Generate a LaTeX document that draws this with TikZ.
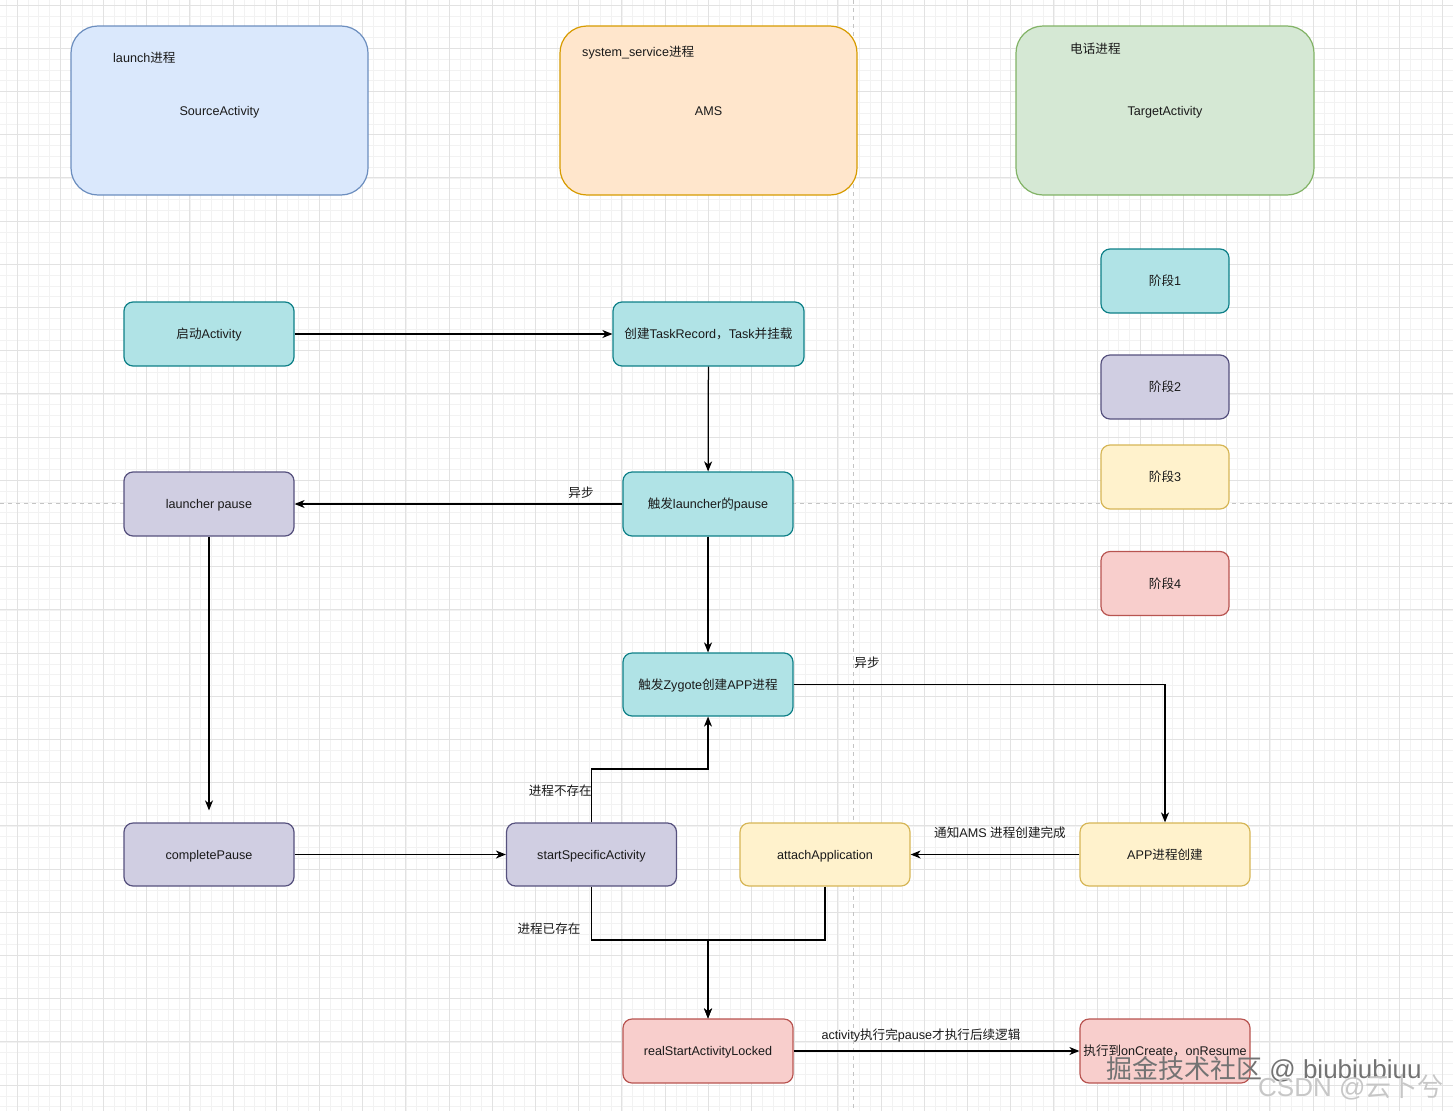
\documentclass[tikz,border=0pt]{standalone}
\usepackage{fontspec}
\setmainfont{Liberation Sans}
\newfontfamily\cjk{Noto Sans CJK SC}
\newcommand\zh[1]{{\cjk #1}}
\usetikzlibrary{arrows.meta}
\definecolor{tealF}{HTML}{B0E3E6}\definecolor{tealD}{HTML}{0E8088}
\definecolor{purpF}{HTML}{D0CEE2}\definecolor{purpD}{HTML}{56517E}
\definecolor{yelF}{HTML}{FFF2CC}\definecolor{yelD}{HTML}{D6B656}
\definecolor{redF}{HTML}{F8CECC}\definecolor{redD}{HTML}{B85450}
\definecolor{bluF}{HTML}{DAE8FC}\definecolor{bluD}{HTML}{6C8EBF}
\definecolor{orgF}{HTML}{FFE6CC}\definecolor{orgD}{HTML}{D79B00}
\definecolor{grnF}{HTML}{D5E8D4}\definecolor{grnD}{HTML}{82B366}
\definecolor{txt}{HTML}{1A1A1A}
\definecolor{gridmin}{HTML}{F2F2F2}
\definecolor{gridmaj}{HTML}{E2E2E2}
\definecolor{pagebrk}{HTML}{C4C4C4}
\tikzset{
  basefont/.style={font=\fontsize{12.6}{15}\selectfont, text=txt, text height=9pt, text depth=0pt},
  box/.style={basefont, rounded corners=9pt, minimum width=170pt, minimum height=64pt, inner sep=0pt, line width=1.2pt},
  bigbox/.style={basefont, rounded corners=27pt, minimum width=297pt, minimum height=169pt, inner sep=0pt, line width=1.2pt},
  tealbox/.style={box, fill=tealF, draw=tealD},
  purpbox/.style={box, fill=purpF, draw=purpD},
  yelbox/.style={box, fill=yelF, draw=yelD},
  redbox/.style={box, fill=redF, draw=redD},
  stagebox/.style={minimum width=128pt},
  lbl/.style={basefont, inner sep=0pt},
  arr/.style={line width=1.25pt, draw=black, -{Stealth[length=10pt,width=8pt,inset=3pt]}},
  wm/.style={inner sep=0pt, font=\fontsize{26}{30}\selectfont},
}
\begin{document}
\begin{tikzpicture}[x=1pt,y=-1pt]
\useasboundingbox (0,0) rectangle (1453,1111);
\fill[white] (0,0) rectangle (1453,1111);
% grid
\foreach \i in {0,...,135} {\draw[gridmin, line width=0.6pt] ({6.2+\i*10.8},0) -- ({6.2+\i*10.8},1111);}
\foreach \i in {0,...,103} {\draw[gridmin, line width=0.6pt] (0,{5+\i*10.8}) -- (1453,{5+\i*10.8});}
\foreach \i in {0,...,33} {\draw[gridmaj, line width=0.8pt] ({17+\i*43.2},0) -- ({17+\i*43.2},1111);}
\foreach \i in {0,...,25} {\draw[gridmaj, line width=0.8pt] (0,{5+\i*43.2}) -- (1453,{5+\i*43.2});}
% page breaks
\draw[pagebrk, line width=1pt, dash pattern=on 4pt off 4pt] (853,0) -- (853,1111);
\draw[pagebrk, line width=1pt, dash pattern=on 4pt off 4pt] (0,503) -- (1453,503);

% big process boxes
\node[bigbox, fill=bluF, draw=bluD] (launch) at (219.5,110.5) {SourceActivity};
\node[lbl, anchor=west] (launchT) at (113,58) {launch\zh{进程}};
\node[bigbox, fill=orgF, draw=orgD] (ams) at (708.5,110.5) {AMS};
\node[lbl, anchor=west] (amsT) at (582,52) {system\_service\zh{进程}};
\node[bigbox, fill=grnF, draw=grnD, minimum width=298pt] (phone) at (1165,110.5) {TargetActivity};
\node[lbl, anchor=west] (phoneT) at (1070,49) {\zh{电话进程}};

% legend
\node[tealbox, stagebox] (s1) at (1165,281) {\zh{阶段}1};
\node[purpbox, stagebox] (s2) at (1165,387) {\zh{阶段}2};
\node[yelbox, stagebox] (s3) at (1165,477) {\zh{阶段}3};
\node[redbox, stagebox] (s4) at (1165,583.5) {\zh{阶段}4};

% flow nodes
\node[tealbox] (sa) at (209,334) {\zh{启动}Activity};
\node[tealbox, minimum width=191pt] (ct) at (708.5,334) {\zh{创建}TaskRecord\zh{，}Task\zh{并挂载}};
\node[tealbox] (tlp) at (708,504) {\zh{触发}launcher\zh{的}pause};
\node[purpbox] (lp) at (209,504) {launcher pause};
\node[tealbox, minimum height=63pt] (zyg) at (708,684.5) {\zh{触发}Zygote\zh{创建}APP\zh{进程}};
\node[purpbox, minimum height=63pt] (cp) at (209,854.5) {completePause};
\node[purpbox, minimum height=63pt] (ssa) at (591.5,854.5) {startSpecificActivity};
\node[yelbox, minimum height=63pt] (att) at (825,854.5) {attachApplication};
\node[yelbox, minimum height=63pt] (app) at (1165,854.5) {APP\zh{进程创建}};
\node[redbox] (rsa) at (708,1051) {realStartActivityLocked};
\node[redbox] (orc) at (1165,1051) {\zh{执行到}onCreate\zh{，}onResume};

% connectors
\coordinate (m1) at (650,769);
\coordinate (m2) at (650,940);
\draw[arr] (sa) -- (ct);
\draw[arr] (ct) -- (tlp);
\draw[arr] (tlp) -- (lp);
\draw[arr] (tlp) -- (zyg);
\draw[arr] (lp.south) -- ([yshift=12pt]cp.north);
\draw[arr] (cp) -- (ssa);
\draw[arr] (ssa.north) |- (m1) -| (zyg.south);
\draw[arr] (zyg.east) -| (app.north);
\draw[arr] (app) -- (att);
\draw[arr] (ssa.south) |- (m2) -| (rsa.north);
\draw[arr] (att.south) |- (m2) -| (rsa.north);
\draw[arr] (rsa) -- (orc);

% connector labels
\node[lbl] (l1) at (581,493) {\zh{异步}};
\node[lbl] (l2) at (867,663) {\zh{异步}};
\node[lbl, anchor=east] (l3) at (592,791) {\zh{进程不存在}};
\node[lbl] (l4) at (549,929) {\zh{进程已存在}};
\node[lbl] (l5) at (1000,833) {\zh{通知}AMS \zh{进程创建完成}};
\node[lbl] (l6) at (921,1035) {activity\zh{执行完}pause\zh{才执行后续逻辑}};

% watermarks
\node[wm, text=black!55, anchor=base west] (wm1) at (1106,1078) {\zh{掘金技术社区} @ biubiubiuu};
\node[wm, text=black!22, anchor=base west] (wm2) at (1258,1096) {CSDN @\zh{云卜兮}};
\end{tikzpicture}
\end{document}
